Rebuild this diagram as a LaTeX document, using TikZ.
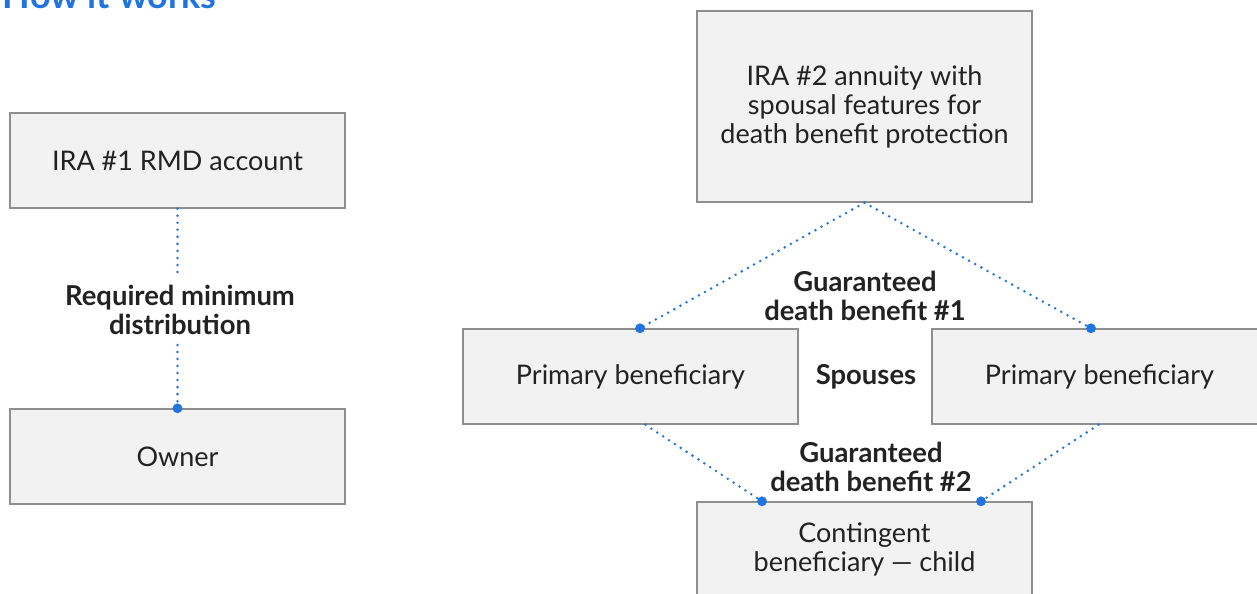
\documentclass[tikz,border=0pt]{standalone}
\usepackage{fontspec}
\setmainfont{Lato}
\usetikzlibrary{calc}
\definecolor{boxgray}{HTML}{F2F2F2}
\definecolor{edgegray}{HTML}{8E8E8E}
\definecolor{dotblue}{HTML}{1F74E0}
\definecolor{textdark}{HTML}{222222}
\tikzset{
	box/.style={draw=edgegray,fill=boxgray,line width=1pt,minimum width=8.375cm,
		minimum height=2.375cm,align=center,text=textdark,
		font=\fontsize{19.2}{20.6}\selectfont},
	lbl/.style={align=center,text=textdark,font=\bfseries\fontsize{19.5}{20.6}\selectfont},
	link/.style={dotblue,line width=2pt,line cap=round,dash pattern=on 0pt off 5pt},
	pin/.style={fill=dotblue}
}
\begin{document}
\begin{tikzpicture}[x=0.025cm,y=-0.025cm]
		\useasboundingbox (0,0) rectangle (1257,593);
		\clip (0,0) rectangle (1257,593);
		\node[anchor=base west,text=dotblue,font=\bfseries\fontsize{25.5}{30}\selectfont]
			(title) at (-2,8) {How it works};
		\node[box] (ira1) at (177.5,160.5) {IRA \#1 RMD account};
		\node[box] (owner) at (177.5,456.5) {Owner};
		\node[lbl,inner sep=7pt] (rmd) at (180,310) {Required minimum\\distribution};
		\node[box,minimum height=4.775cm] (ira2) at (864.5,106.5)
			{IRA \#2 annuity with\\spousal features for\\death benefit protection};
		\node[box] (pbl) at (630.5,376.5) {Primary beneficiary};
		\node[box] (pbr) at (1099.5,376.5) {Primary beneficiary};
		\node[box] (cont) at (864.5,549.5) {Contingent\\beneficiary — child};
		\node[lbl] (gdb1) at (865,296) {Guaranteed\\death benefit \#1};
		\node[lbl] (spouses) at (866,377) {Spouses};
		\node[lbl] (gdb2) at (871,467) {Guaranteed\\death benefit \#2};
		\draw[link] (ira1.south) -- (rmd.north -| ira1.south);
		\draw[link] (rmd.south -| owner.north) -- (owner.north);
		\fill[pin] (owner.north) circle (3.5pt);
		\coordinate (pl) at ($(pbl.north)+(9.5,0)$);
		\coordinate (pr) at ($(pbr.north)+(-8.5,0)$);
		\coordinate (ql) at ($(pbl.south)+(15,0)$);
		\coordinate (qr) at ($(pbr.south)+(-1,0)$);
		\coordinate (cl) at ($(cont.north)+(-102.5,0)$);
		\coordinate (cr) at ($(cont.north)+(116.5,0)$);
		\foreach \a/\b in {ira2.south/pl, ira2.south/pr, ql/cl, qr/cr}
		{
			\draw[link] (\a) -- (\b);
			\fill[pin] (\b) circle (3.5pt);
		}
\end{tikzpicture}
\end{document}
